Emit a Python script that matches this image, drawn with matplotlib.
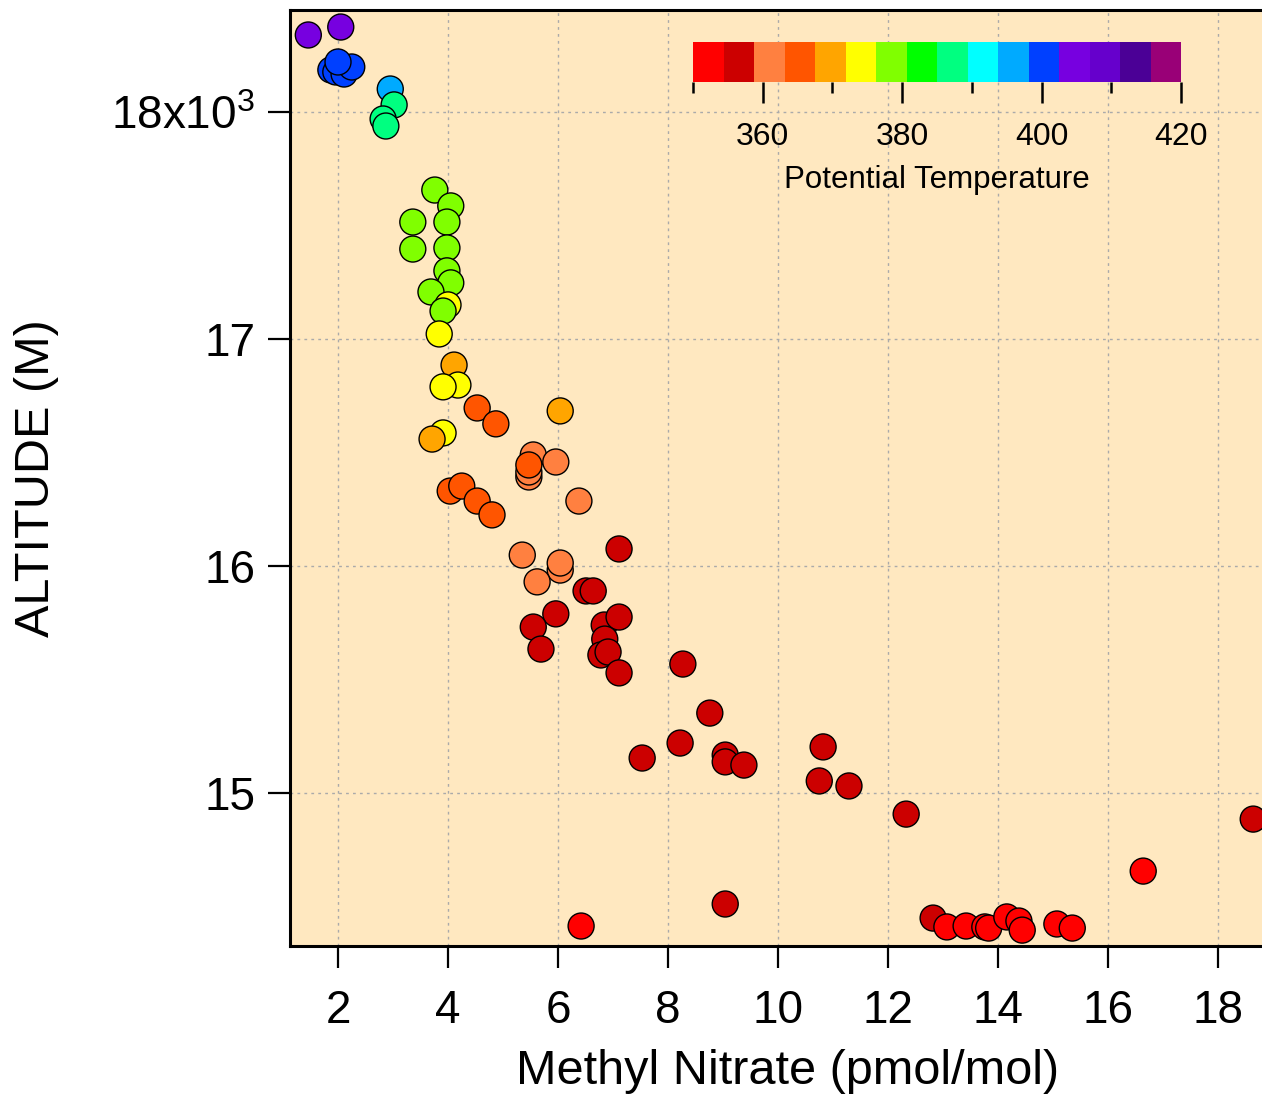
import numpy as np
import matplotlib
matplotlib.use('Agg')
import matplotlib.pyplot as plt
from matplotlib.colors import ListedColormap, BoundaryNorm
from matplotlib.cm import ScalarMappable

plt.rcParams['font.family'] = ['Liberation Sans', 'DejaVu Sans']
plt.rcParams['mathtext.fontset'] = 'custom'
plt.rcParams['mathtext.rm'] = 'Liberation Sans'

# Methyl nitrate (pmol/mol), altitude (m), potential temperature (K)
methyl_nitrate = [
    1.46, 2.05,
    1.87, 1.96, 2.11, 2.25, 2.00,
    2.95, 3.02, 2.82, 2.87,
    3.76, 4.05, 3.98, 3.36, 3.36, 3.98, 3.98, 4.05, 3.69, 4.00, 3.91,
    3.84, 4.11, 4.18, 3.91, 4.53, 4.87, 6.04, 3.91, 3.71,
    5.55, 5.96, 5.47, 5.47, 5.47, 6.38, 4.04, 4.25, 4.53, 4.80,
    7.11, 5.35, 6.04, 6.04, 5.62, 6.51, 6.64, 5.96, 5.55, 5.69,
    6.84, 7.11, 6.85, 6.78, 6.91, 7.11, 8.27,
    8.76, 8.22, 7.53, 9.04, 9.04, 9.38, 10.82, 10.75, 11.29, 12.33, 18.64,
    16.64, 9.04, 12.82, 13.07, 13.42, 13.76, 13.83, 14.16, 14.38, 14.44,
    15.07, 15.35, 6.42,
]
altitude = [
    18339, 18374,
    18185, 18176, 18167, 18198, 18220,
    18101, 18031, 17969, 17938,
    17656, 17586, 17515, 17515, 17396, 17401, 17300, 17247, 17207, 17150, 17123,
    17022, 16885, 16797, 16789, 16696, 16626, 16683, 16586, 16559,
    16489, 16458, 16392, 16414, 16445, 16286, 16330, 16352, 16286, 16225,
    16075, 16048, 15982, 16013, 15930, 15890, 15890, 15789, 15731, 15634,
    15740, 15775, 15678, 15608, 15621, 15529, 15568,
    15352, 15220, 15154, 15167, 15137, 15123, 15203, 15053, 15031, 14907, 14885,
    14656, 14511, 14449, 14410, 14414, 14410, 14405, 14454, 14436, 14396,
    14423, 14405, 14414,
]
theta = [
    404, 405,
    400, 400, 400, 400, 400,
    396, 387, 387, 387,
    378, 378, 378, 378, 378, 378, 378, 378, 378, 374, 378,
    374, 369, 374, 374, 365, 365, 369, 374, 369,
    361, 361, 361, 361, 365, 361, 365, 365, 365, 365,
    356, 361, 361, 361, 361, 356, 356, 356, 356, 356,
    356, 356, 356, 356, 356, 356, 356,
    356, 356, 356, 356, 356, 356, 356, 356, 356, 356, 356,
    352, 356, 356, 352, 352, 352, 352, 352, 352, 352,
    352, 352, 352,
]

cbar_colors = ['#FF0000', '#CC0000', '#FF8040', '#FF5500', '#FFA500', '#FFFF00',
               '#80FF00', '#00FF00', '#00FF80', '#00FFFF', '#00AAFF', '#0040FF',
               '#7700E0', '#6600CC', '#4B0096', '#990077']
theta_min, theta_max = 350, 420

cmap = ListedColormap(cbar_colors)
bounds = np.linspace(theta_min, theta_max, len(cbar_colors) + 1)
norm = BoundaryNorm(bounds, cmap.N)

W, H = 1262, 1094
fig = plt.figure(figsize=(W / 100, H / 100), dpi=100)
ax_l, ax_r, ax_t, ax_b = 290, 1286, 10, 946
ax = fig.add_axes([ax_l / W, 1 - ax_b / H, (ax_r - ax_l) / W, (ax_b - ax_t) / H])
ax.set_facecolor('#FFE8C0')

ax.scatter(methyl_nitrate, altitude, c=theta, cmap=cmap, norm=norm, s=350,
           edgecolors='black', linewidths=1.0, zorder=3)

ax.set_xlim(1.127, 19.236)
ax.set_ylim(14326, 18449)
ax.set_xticks(range(2, 19, 2))
ax.set_yticks([15000, 16000, 17000, 18000])
ax.set_yticklabels(['15', '16', '17', r'18x10$\mathregular{^{3}}$'])
ax.grid(True, color='#AAAAAA', linestyle=(0, (2, 3)), linewidth=1.0, zorder=0)
ax.set_axisbelow(True)

for side in ['left', 'bottom', 'top']:
    ax.spines[side].set_linewidth(2.2)
ax.spines['right'].set_visible(False)
ax.tick_params(axis='both', direction='out', length=16, width=1.6, labelsize=33)
ax.tick_params(axis='x', pad=15)
ax.tick_params(axis='y', pad=9)

ax.set_xlabel('Methyl Nitrate (pmol/mol)', fontsize=35)
ax.set_ylabel('ALTITUDE (M)', fontsize=35)
ax.xaxis.set_label_coords(0.5, -0.11)
ax.yaxis.set_label_coords(-0.232, 0.5)

# colour scale in the upper right
cax = fig.add_axes([693 / W, 1 - 82 / H, 488 / W, 40 / H])
sm = ScalarMappable(norm=norm, cmap=cmap)
cb = fig.colorbar(sm, cax=cax, orientation='horizontal')
cb.outline.set_visible(False)
cb.set_ticks([360, 380, 400, 420])
cax.set_xticks([350, 370, 390, 410], minor=True)
cax.tick_params(which='major', length=15, width=1.8, labelsize=23, pad=14)
cax.tick_params(which='minor', length=8, width=1.8)
cb.set_label('Potential Temperature', fontsize=22.5, labelpad=9)

fig.savefig('out.png', dpi=100)
